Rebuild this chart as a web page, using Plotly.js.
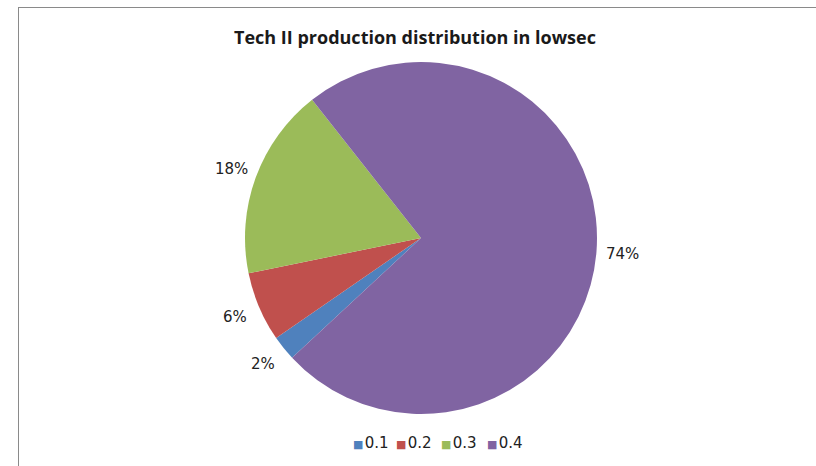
<!DOCTYPE html>
<html>
<head>
<meta charset="utf-8">
<script src="https://cdn.plot.ly/plotly-3.0.1.min.js"></script>
<style>
  html, body { margin: 0; padding: 0; background: #fff; }
  #wrap { position: relative; width: 816px; height: 466px; overflow: hidden; }
  #chart { position: absolute; left: 0; top: 0; width: 816px; height: 466px; }
  #frame { position: absolute; left: 18px; top: 7px; width: 820px; height: 480px;
           border-left: 1.5px solid #8a8a8a; border-top: 1.5px solid #8a8a8a; pointer-events: none; }
</style>
</head>
<body>
<div id="wrap">
  <div id="chart"></div>
  <div id="frame"></div>
</div>
<script>
const categories = ['0.1', '0.2', '0.3', '0.4'];
const shares = [2.3, 6.4, 17.6, 73.7];
const sliceColors = ['#4F81BD', '#C0504D', '#9BBB59', '#8064A2'];
const chartTitle = 'Tech II production distribution in lowsec';

const W = 816, H = 466;
const cx = 421, cy = 238, r = 176;
const startAngle = 227.1;      // degrees clockwise from 12 o'clock
const labelFont = { family: 'DejaVu Sans, sans-serif', size: 15, color: '#222' };

const trace = {
  type: 'pie',
  labels: categories,
  values: shares,
  sort: false,
  direction: 'clockwise',
  rotation: startAngle,
  marker: { colors: sliceColors, line: { width: 0 } },
  textinfo: 'none',
  hoverinfo: 'none',
  showlegend: false,
  domain: {
    x: [(cx - r) / W, (cx + r) / W],
    y: [(H - (cy + r)) / H, (H - (cy - r)) / H]
  }
};

// percentage labels placed outside each slice, derived from the data
const total = shares.reduce((a, b) => a + b, 0);
const annotations = [];
let acc = 0;
shares.forEach((v, i) => {
  const mid = (startAngle + (acc + v / 2) / total * 360) * Math.PI / 180;
  acc += v;
  const lr = r + 26;
  const px = cx + lr * Math.sin(mid);
  const py = cy - lr * Math.cos(mid);
  annotations.push({
    xref: 'paper', yref: 'paper',
    x: px / W, y: 1 - py / H,
    xanchor: 'center', yanchor: 'middle',
    text: Math.round(v / total * 100) + '%',
    showarrow: false,
    font: labelFont
  });
});

// compact legend like the original (small square + label)
const legendX = [351, 394, 439, 485];
categories.forEach((c, i) => {
  annotations.push({
    xref: 'paper', yref: 'paper',
    x: legendX[i] / W, y: 1 - 443 / H,
    xanchor: 'left', yanchor: 'middle',
    text: '<span style="color:' + sliceColors[i] + ';font-size:11px">■</span><span style="font-size:4px"> </span>' + c,
    showarrow: false,
    font: { family: 'DejaVu Sans, sans-serif', size: 15, color: '#222' }
  });
});

const layout = {
  width: W, height: H,
  margin: { l: 0, r: 0, t: 0, b: 0 },
  paper_bgcolor: '#ffffff',
  title: {
    text: '<b>' + chartTitle + '</b>',
    font: { family: 'Open Sans, DejaVu Sans, sans-serif', size: 18, color: '#1a1a1a' },
    x: 415 / W, xanchor: 'center',
    y: 1 - 38 / H, yanchor: 'middle'
  },
  showlegend: false,
  annotations: annotations
};

Plotly.newPlot('chart', [trace], layout, { staticPlot: true });
</script>
</body>
</html>
